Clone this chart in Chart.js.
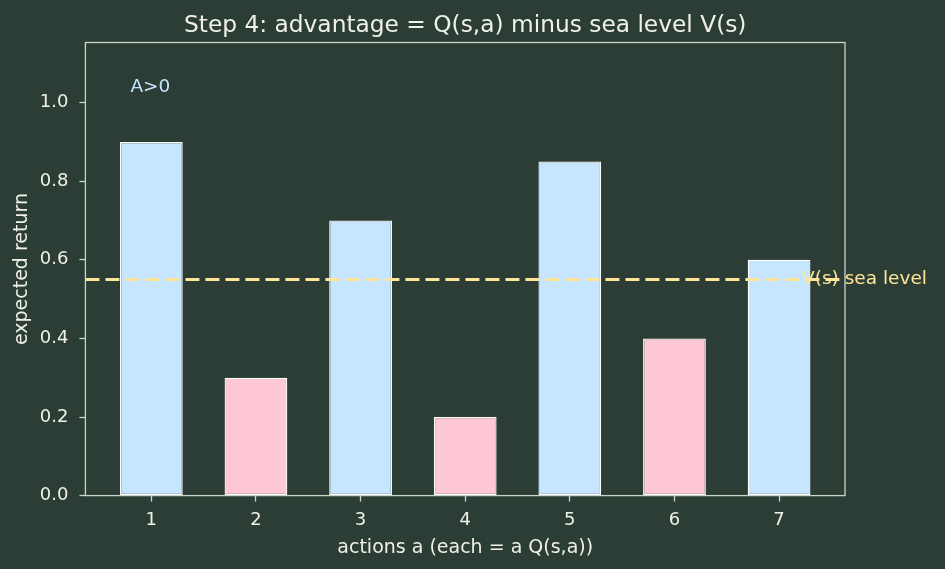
<!DOCTYPE html>
<html>
<head>
<meta charset="utf-8">
<script src="https://cdn.jsdelivr.net/npm/chart.js@4.4.1/dist/chart.umd.min.js"></script>
<style>
html,body{margin:0;padding:0;background:#2b3d35;}
#wrap{width:945px;height:569px;}
</style>
</head>
<body>
<div id="wrap"><canvas id="c" width="945" height="569"></canvas></div>
<script>
const categories = ['1','2','3','4','5','6','7'];
const qValues = [0.90, 0.30, 0.70, 0.20, 0.85, 0.40, 0.60];
const seaLevel = 0.55;
const yTicks = [0.0, 0.2, 0.4, 0.6, 0.8, 1.0];
const titleText = 'Step 4: advantage = Q(s,a) minus sea level V(s)';

const BG = '#2b3d35';
const FG = '#f0f0ea';
const SPINE = '#c9d6cc';
const BLUE = '#c6e5ff';
const PINK = '#ffc8d7';
const GOLD = '#ffe59a';
const FONT = 'DejaVu Sans';

const barColors = qValues.map(v => v > seaLevel ? BLUE : PINK);

const bgPlugin = {
  id: 'bg',
  beforeDraw(chart) {
    const ctx = chart.ctx;
    ctx.save();
    ctx.fillStyle = BG;
    ctx.fillRect(0, 0, chart.width, chart.height);
    ctx.restore();
  }
};

const overlayPlugin = {
  id: 'overlay',
  afterDatasetsDraw(chart) {
    const ctx = chart.ctx;
    const a = chart.chartArea;
    const xs = chart.scales.x, ys = chart.scales.y;
    ctx.save();
    const yl = ys.getPixelForValue(seaLevel);
    ctx.strokeStyle = GOLD;
    ctx.lineWidth = 3;
    ctx.setLineDash([14, 6]);
    ctx.beginPath();
    ctx.moveTo(a.left, yl);
    ctx.lineTo(a.right, yl);
    ctx.stroke();
    ctx.setLineDash([]);
    ctx.strokeStyle = SPINE;
    ctx.lineWidth = 1.3;
    ctx.strokeRect(a.left, a.top, a.right - a.left, a.bottom - a.top);
    ctx.font = '18.5px "' + FONT + '"';
    ctx.fillStyle = GOLD;
    ctx.textBaseline = 'middle';
    ctx.textAlign = 'left';
    ctx.fillText('V(s) sea level', xs.getPixelForValue(7.22), yl);
    ctx.fillStyle = BLUE;
    ctx.fillText('A>0', xs.getPixelForValue(0.8), ys.getPixelForValue(1.04));
    // title centred over the plot area
    ctx.font = '23.3px "' + FONT + '"';
    ctx.fillStyle = FG;
    ctx.textAlign = 'center';
    ctx.textBaseline = 'alphabetic';
    ctx.fillText(titleText, (a.left + a.right) / 2, a.top - 10.5);
    ctx.restore();
  }
};

new Chart(document.getElementById('c'), {
  type: 'bar',
  data: {
    datasets: [{
      data: qValues.map((v, i) => ({x: i + 1, y: v})),
      backgroundColor: barColors,
      borderColor: '#ffffff',
      borderWidth: 1.3,
      borderSkipped: false,
      categoryPercentage: 0.6,
      barPercentage: 1.0
    }]
  },
  options: {
    responsive: false,
    animation: false,
    devicePixelRatio: 1,
    layout: {padding: {left: 7, right: 100, top: 42.5, bottom: 10}},
    plugins: {
      legend: {display: false},
      tooltip: {enabled: false},
      title: {display: false}
    },
    scales: {
      x: {
        type: 'linear',
        min: 0.37,
        max: 7.63,
        offset: false,
        afterBuildTicks(s) { s.ticks = categories.map((c, i) => ({value: i + 1})); },
        ticks: {
          color: FG,
          font: {family: FONT, size: 18},
          padding: 8,
          callback: (v, i) => categories[i]
        },
        grid: {display: true, offset: false, drawOnChartArea: false, drawTicks: true, tickLength: 6, tickColor: SPINE, tickWidth: 1.3},
        border: {display: false},
        title: {display: true, text: 'actions a (each = a Q(s,a))', color: FG, font: {family: FONT, size: 19}, padding: {top: -3, bottom: 0}}
      },
      y: {
        min: 0,
        max: 1.153,
        afterBuildTicks(s) { s.ticks = yTicks.map(v => ({value: v})); },
        ticks: {
          color: FG,
          font: {family: FONT, size: 18},
          padding: 11,
          callback: v => v.toFixed(1)
        },
        grid: {display: true, offset: false, drawOnChartArea: false, drawTicks: true, tickLength: 6, tickColor: SPINE, tickWidth: 1.3},
        border: {display: false},
        title: {display: true, text: 'expected return', color: FG, font: {family: FONT, size: 19}, padding: {top: 4, bottom: -5}}
      }
    }
  },
  plugins: [bgPlugin, overlayPlugin]
});
</script>
</body>
</html>
